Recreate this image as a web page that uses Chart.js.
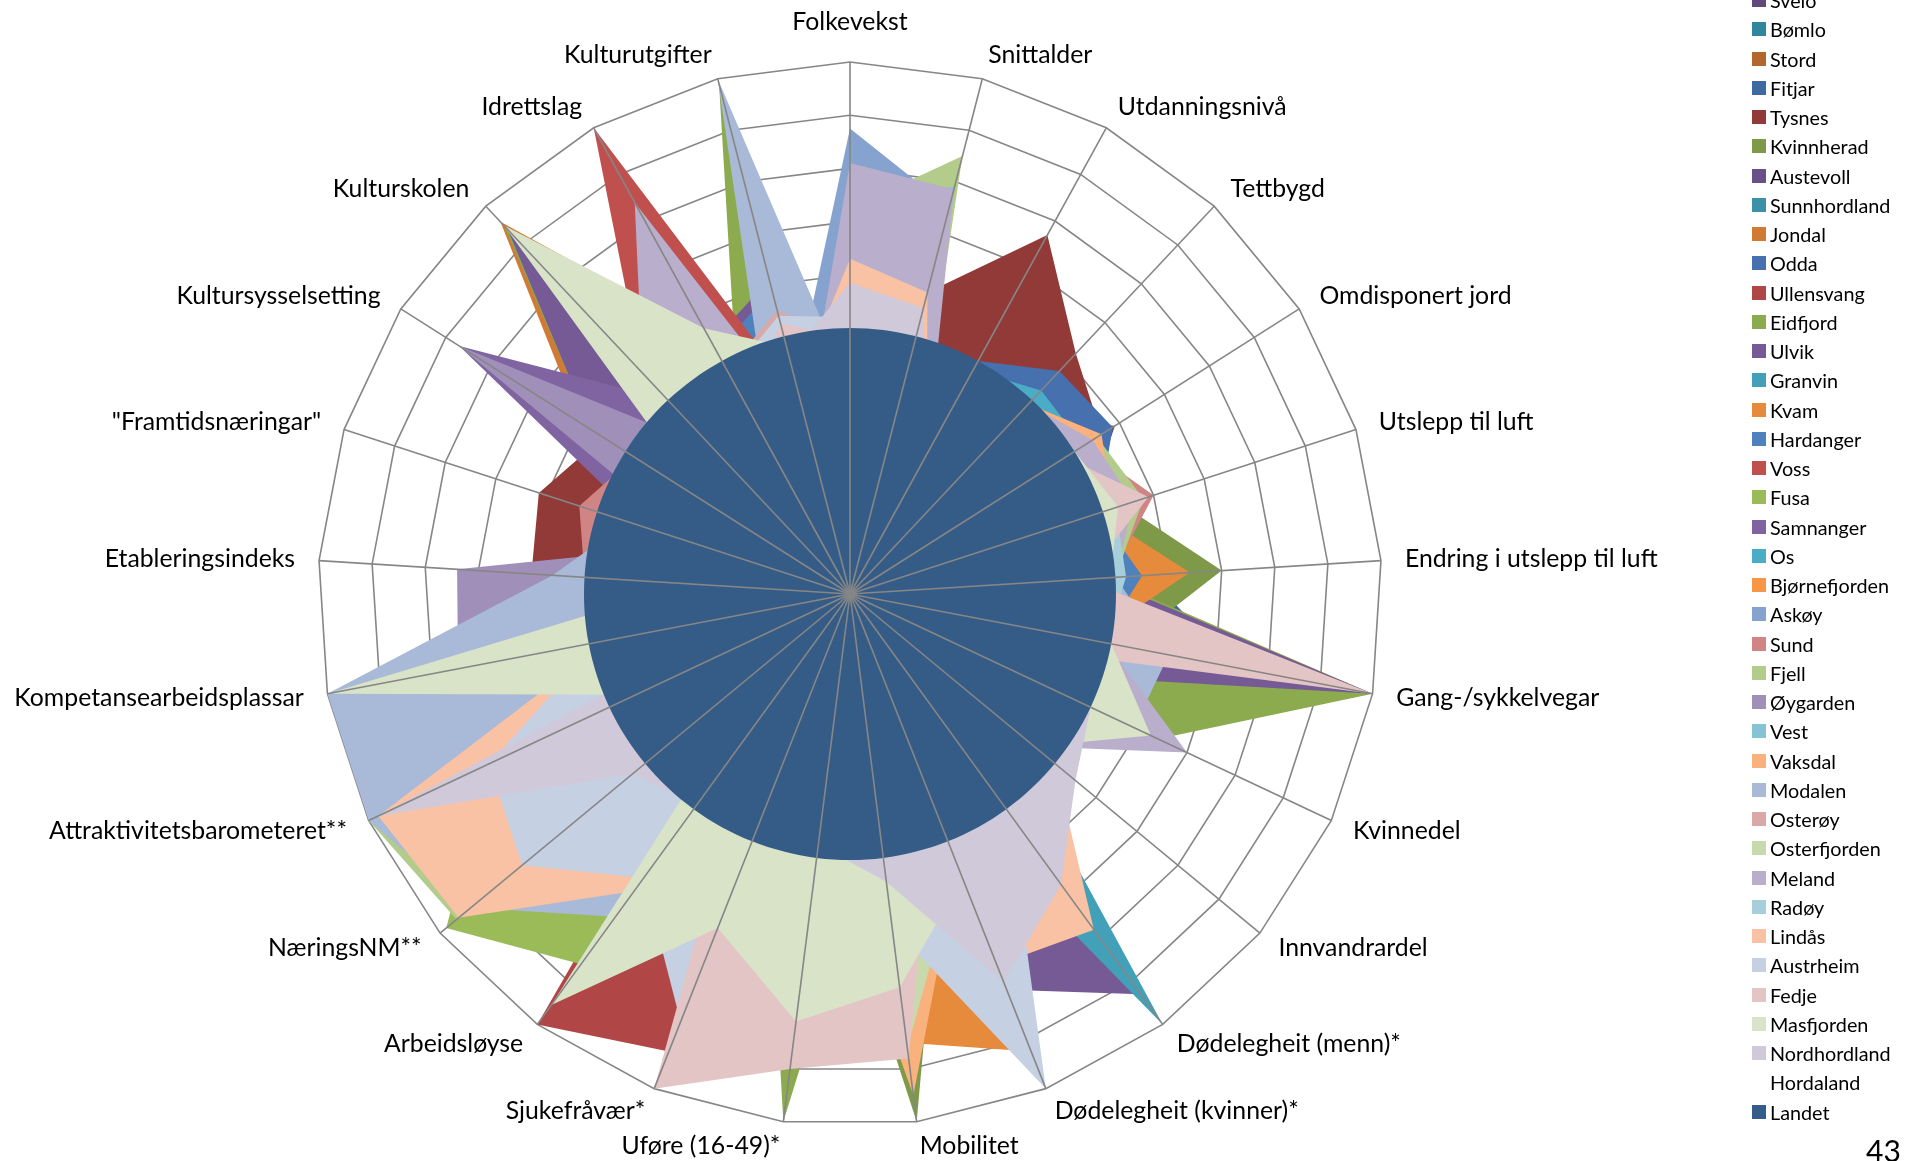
<!DOCTYPE html>
<html lang="no">
<head>
<meta charset="utf-8">
<title>Radar</title>
<script src="https://cdn.jsdelivr.net/npm/chart.js@4.4.1/dist/chart.umd.min.js"></script>
<style>
    html, body { margin: 0; padding: 0; background: #fff; overflow: hidden; }
    body { width: 1912px; height: 1161px; position: relative; font-family: Lato, 'Open Sans', sans-serif; }
    #chart { position: absolute; left: 0; top: 0; }
    #legend { position: absolute; left: 1752px; top: -14.6px; }
    .item { height: 29.26px; display: flex; align-items: center; font-size: 19.8px; color: #000; white-space: nowrap; }
    .sw { width: 14px; height: 14px; margin-right: 4px; flex: none; }
    #page { position: absolute; left: 1866px; top: 1132px; font-size: 30px; color: #000; }
</style>
</head>
<body>
<canvas id="chart" width="1912" height="1161"></canvas>
<div id="legend"></div>
<div id="page">43</div>
<script>
// axes, clockwise from the top
const categories = ['Folkevekst', 'Snittalder', 'Utdanningsnivå', 'Tettbygd', 'Omdisponert jord', 'Utslepp til luft',
    'Endring i utslepp til luft', 'Gang-/sykkelvegar', 'Kvinnedel', 'Innvandrardel', 'Dødelegheit (menn)*',
    'Dødelegheit (kvinner)*', 'Mobilitet', 'Uføre (16-49)*', 'Sjukefråvær*', 'Arbeidsløyse', 'NæringsNM**',
    'Attraktivitetsbarometeret**', 'Kompetansearbeidsplassar', 'Etableringsindeks', '"Framtidsnæringar"',
    'Kultursysselsetting', 'Kulturskolen', 'Idrettslag', 'Kulturutgifter'];

// index values, Landet = 100
const sveio        = [88, 92, 85, 90, 118, 92, 95, 80, 85, 70, 90, 94, 85, 80, 75, 70, 85, 80, 75, 90, 85, 80, 90, 85, 88];
const bomlo        = [85, 90, 88, 92, 95, 100, 130, 98, 80, 75, 88, 95, 185, 110, 80, 78, 82, 85, 80, 90, 88, 84, 86, 80, 82];
const stord        = [90, 97, 108, 110, 100, 92, 90, 85, 88, 80, 85, 90, 88, 82, 80, 85, 82, 84, 80, 86, 84, 82, 88, 84, 86];
const fitjar       = [86, 88, 90, 94, 98, 104, 112, 148, 90, 80, 85, 88, 92, 80, 78, 76, 80, 82, 84, 86, 80, 78, 82, 80, 84];
const tysnes       = [92, 117, 154, 124, 112, 95, 90, 88, 100, 103, 92, 88, 85, 80, 82, 84, 86, 88, 94, 120, 123, 110, 90, 86, 88];
const kvinnherad   = [88, 90, 86, 92, 96, 108, 140, 105, 95, 85, 90, 95, 200, 88, 84, 80, 86, 88, 82, 90, 86, 84, 92, 88, 86];
const austevoll    = [84, 86, 82, 88, 90, 92, 94, 96, 88, 84, 92, 96, 90, 86, 82, 80, 84, 86, 88, 90, 92, 98, 150, 96, 92];
const sunnhordland = [90, 95, 98, 96, 97, 98, 99, 97, 92, 88, 94, 96, 97, 92, 90, 88, 90, 92, 90, 94, 92, 90, 94, 92, 93];
const jondal       = [86, 84, 82, 86, 88, 90, 92, 88, 86, 80, 88, 92, 90, 86, 84, 82, 84, 86, 84, 88, 90, 120, 192, 111, 92];
const odda         = [95, 96, 100, 115, 117, 98, 96, 92, 88, 84, 90, 92, 88, 84, 82, 80, 84, 86, 84, 88, 86, 88, 94, 100, 130];
const ullensvang   = [88, 86, 84, 88, 90, 88, 86, 84, 82, 80, 84, 190, 100, 92, 185, 200, 60, 80, 82, 84, 86, 88, 92, 94, 90];
const eidfjord     = [65, 88, 84, 86, 90, 92, 96, 200, 128, 70, 82, 86, 84, 200, 86, 80, 82, 84, 86, 88, 90, 115, 190, 88, 198];
const ulvik        = [90, 86, 84, 88, 90, 92, 94, 200, 70, 62, 186, 160, 88, 84, 82, 80, 82, 84, 86, 88, 90, 115, 188, 108, 122];
const granvin      = [88, 90, 92, 100, 98, 94, 92, 88, 84, 70, 200, 75, 86, 84, 82, 80, 82, 84, 86, 88, 86, 84, 88, 86, 88];
const kvam         = [86, 88, 90, 92, 94, 98, 128, 92, 88, 84, 96, 185, 170, 88, 84, 80, 82, 84, 86, 88, 86, 84, 88, 86, 88];
const hardanger    = [92, 90, 88, 90, 94, 98, 110, 96, 90, 86, 92, 94, 90, 86, 84, 82, 84, 86, 88, 90, 88, 90, 100, 104, 118];
const voss         = [90, 88, 86, 88, 90, 92, 94, 92, 90, 88, 94, 92, 90, 88, 86, 84, 86, 88, 86, 88, 90, 96, 114, 200, 75];
const fusa         = [86, 88, 84, 86, 88, 90, 92, 90, 88, 84, 86, 88, 90, 92, 120, 172, 197, 150, 96, 88, 86, 84, 88, 86, 88];
const samnanger    = [88, 86, 84, 86, 88, 90, 92, 90, 88, 86, 110, 165, 100, 86, 84, 82, 84, 86, 88, 90, 80, 174, 100, 94, 92];
const os           = [92, 94, 96, 105, 104, 98, 96, 92, 90, 88, 92, 94, 92, 88, 86, 84, 86, 88, 90, 92, 90, 88, 92, 90, 94];
const bjornefjorden = [94, 96, 97, 98, 99, 98, 97, 95, 93, 90, 94, 96, 95, 92, 90, 88, 90, 92, 90, 94, 92, 90, 94, 92, 94];
const askoy        = [175, 150, 55, 96, 105, 117, 98, 94, 92, 90, 86, 88, 90, 86, 84, 82, 86, 88, 90, 92, 94, 90, 88, 86, 82];
const sund         = [90, 92, 94, 96, 104, 120, 98, 94, 92, 88, 86, 88, 90, 86, 84, 82, 84, 86, 92, 100, 107, 96, 92, 88, 90];
const fjell        = [145, 170, 50, 98, 110, 116, 100, 94, 92, 88, 86, 88, 90, 86, 84, 90, 192, 200, 95, 102, 94, 90, 88, 84, 70];
const oygarden     = [88, 90, 92, 94, 96, 98, 96, 92, 90, 86, 84, 86, 88, 84, 82, 84, 88, 92, 150, 148, 60, 174, 74, 86, 88];
const vest         = [150, 158, 55, 94, 98, 100, 98, 94, 92, 88, 86, 88, 90, 86, 84, 82, 84, 86, 88, 90, 88, 86, 84, 80, 70];
const vaksdal      = [90, 92, 94, 98, 112, 104, 96, 92, 90, 88, 94, 110, 190, 90, 86, 84, 86, 88, 90, 92, 90, 88, 90, 88, 90];
const modalen      = [78, 90, 92, 94, 96, 98, 100, 122, 118, 88, 86, 88, 90, 88, 92, 150, 185, 200, 200, 112, 88, 86, 84, 60, 200];
const osteroy      = [96, 94, 92, 94, 96, 98, 96, 94, 92, 88, 86, 88, 90, 88, 86, 84, 86, 88, 90, 92, 90, 88, 92, 96, 110];
const osterfjorden = [94, 96, 95, 96, 98, 99, 97, 95, 93, 90, 92, 110, 172, 96, 92, 90, 92, 94, 92, 94, 92, 90, 94, 92, 94];
const meland       = [162, 157, 60, 98, 108, 112, 100, 98, 140, 90, 86, 88, 90, 86, 84, 82, 84, 86, 88, 90, 88, 86, 114, 168, 67];
const radoy        = [94, 92, 90, 92, 96, 105, 104, 98, 96, 94, 140, 96, 92, 88, 86, 84, 86, 88, 90, 92, 90, 88, 92, 90, 92];
const lindas       = [126, 117, 60, 94, 98, 100, 96, 94, 92, 100, 156, 150, 96, 90, 88, 138, 191, 196, 92, 90, 88, 86, 90, 88, 80];
const austrheim    = [104, 98, 96, 94, 96, 98, 96, 94, 92, 90, 101, 200, 126, 110, 173, 132, 160, 150, 96, 92, 90, 88, 92, 94, 108];
const fedje        = [96, 94, 92, 94, 96, 118, 88, 200, 40, 60, 70, 85, 176, 180, 200, 60, 80, 84, 86, 88, 90, 88, 90, 80, 105];
const masfjorden   = [96, 94, 95, 98, 100, 106, 98, 100, 125, 90, 92, 115, 149, 162, 135, 191, 40, 89, 200, 60, 80, 65, 190, 114, 96];
const nordhordland = [117, 111, 60, 94, 96, 98, 96, 98, 100, 110, 135, 157, 109, 95, 96, 98, 106, 196, 36, 90, 92, 94, 96, 95, 92];
const hordaland    = [96, 98, 97, 99, 98, 97, 96, 95, 94, 93, 95, 97, 98, 94, 93, 92, 94, 96, 95, 96, 95, 94, 97, 96, 95];
const landet       = [100, 100, 100, 100, 100, 100, 100, 100, 100, 100, 100, 100, 100, 100, 100, 100, 100, 100, 100, 100, 100, 100, 100, 100, 100];

const seriesNames = ['Sveio', 'Bømlo', 'Stord', 'Fitjar', 'Tysnes', 'Kvinnherad', 'Austevoll', 'Sunnhordland',
    'Jondal', 'Odda', 'Ullensvang', 'Eidfjord', 'Ulvik', 'Granvin', 'Kvam', 'Hardanger', 'Voss', 'Fusa',
    'Samnanger', 'Os', 'Bjørnefjorden', 'Askøy', 'Sund', 'Fjell', 'Øygarden', 'Vest', 'Vaksdal', 'Modalen',
    'Osterøy', 'Osterfjorden', 'Meland', 'Radøy', 'Lindås', 'Austrheim', 'Fedje', 'Masfjorden',
    'Nordhordland', 'Hordaland', 'Landet'];

const seriesData = [sveio, bomlo, stord, fitjar, tysnes, kvinnherad, austevoll, sunnhordland,
    jondal, odda, ullensvang, eidfjord, ulvik, granvin, kvam, hardanger, voss, fusa,
    samnanger, os, bjornefjorden, askoy, sund, fjell, oygarden, vest, vaksdal, modalen,
    osteroy, osterfjorden, meland, radoy, lindas, austrheim, fedje, masfjorden,
    nordhordland, hordaland, landet];

const seriesColors = ['#604A7B', '#31859C', '#B3662D', '#3F6AA0', '#923A38', '#7E9A48', '#6A5088', '#3B91A8',
    '#D07A34', '#4670AE', '#B04646', '#8CAA4E', '#755A95', '#42A0B8', '#E68A3C', '#4F81BD', '#C0504D', '#9BBB59',
    '#8064A2', '#4BACC6', '#F79646', '#86A2CE', '#D08584', '#B3CB8B', '#A08FB8', '#86C3D5', '#F9B17E', '#A9B9D8',
    '#DBA8A8', '#C8D9AD', '#B9AECB', '#A7CEDB', '#F9C2A4', '#C5D0E2', '#E4C5C6', '#D8E3C8',
    '#D0C9DA', 'rgba(0,0,0,0)', '#355C87'];

const gridColor = '#868686';

// spokes sit on top of the filled areas, labels drawn round the rim
const axisOverlay = {
    id: 'axisOverlay',
    afterDatasetsDraw(chart) {
        const s = chart.scales.r;
        const ctx = chart.ctx;
        ctx.save();
        ctx.strokeStyle = gridColor;
        ctx.lineWidth = 1.6;
        categories.forEach((c, i) => {
            const p = s.getPointPositionForValue(i, s.max);
            ctx.beginPath();
            ctx.moveTo(s.xCenter, s.yCenter);
            ctx.lineTo(p.x, p.y);
            ctx.stroke();
        });

        ctx.font = '24.8px Lato, "Open Sans", sans-serif';
        ctx.fillStyle = '#000';
        ctx.textBaseline = 'middle';
        categories.forEach((c, i) => {
            const deg = i * 360 / categories.length;
            const p = s.getPointPosition(i, s.drawingArea + 24);
            let y = p.y;
            if (deg < 3) { ctx.textAlign = 'center'; y -= 16; }
            else if (deg < 177) ctx.textAlign = 'left';
            else if (deg <= 183) ctx.textAlign = 'center';
            else ctx.textAlign = 'right';
            ctx.fillText(c, p.x, y);
        });
        ctx.restore();
    }
};

const datasets = seriesNames.map((name, i) => ({
    label: name,
    data: seriesData[i],
    backgroundColor: seriesColors[i],
    borderColor: 'rgba(0,0,0,0)',
    borderWidth: 0,
    pointRadius: 0,
    fill: true,
    order: seriesNames.length - i,   // later series on top, Landet last
    tension: name === 'Landet' ? 0.337 : 0
}));

new Chart(document.getElementById('chart'), {
    type: 'radar',
    data: { labels: categories, datasets: datasets },
    options: {
        responsive: false,
        animation: false,
        devicePixelRatio: 1,
        layout: { padding: { left: 318, right: 530, top: 62, bottom: 35 } },
        plugins: { legend: { display: false }, tooltip: { enabled: false } },
        elements: { point: { radius: 0 } },
        scales: {
            r: {
                min: 0,
                max: 200,
                ticks: { display: false, stepSize: 20 },
                grid: { color: gridColor, lineWidth: 1.6 },
                angleLines: { display: false },
                pointLabels: { display: false }
            }
        }
    },
    plugins: [axisOverlay]
});

// legend list on the right
const legend = document.getElementById('legend');
seriesNames.forEach((name, i) => {
    const row = document.createElement('div');
    row.className = 'item';
    row.innerHTML = `<span class="sw" style="background:${seriesColors[i]}"></span><span>${name}</span>`;
    legend.appendChild(row);
});
</script>
</body>
</html>
